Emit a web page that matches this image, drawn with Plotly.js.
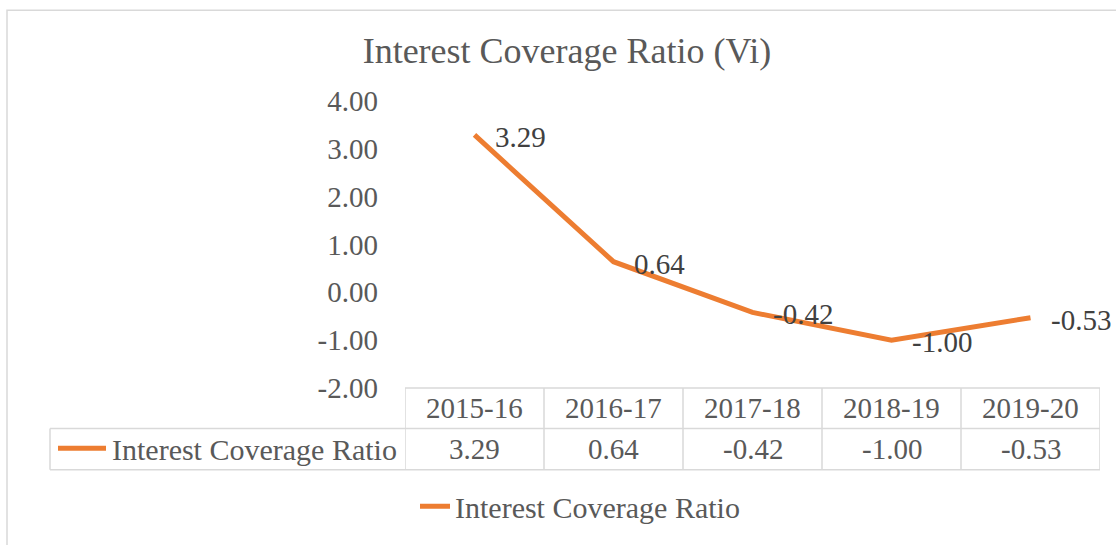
<!DOCTYPE html>
<html>
<head>
<meta charset="utf-8">
<script src="https://cdn.plot.ly/plotly-3.0.1.min.js"></script>
<style>html,body{margin:0;padding:0;background:#fff;}#chart{width:1116px;height:545px;}</style>
</head>
<body>
<div id="chart"></div>
<script>
const categories = ["2015-16", "2016-17", "2017-18", "2018-19", "2019-20"];
const values = [3.29, 0.64, -0.42, -1.00, -0.53];
const seriesName = "Interest Coverage Ratio";
const chartTitle = "Interest Coverage Ratio (Vi)";
const yTickVals = [4, 3, 2, 1, 0, -1, -2];
const yTickText = ["4.00", "3.00", "2.00", "1.00", "0.00", "-1.00", "-2.00"];

const W = 1116, H = 545;
const L = 405, R = 16, T = 101, B = 153;
const plotW = W - L - R, plotH = H - T - B;
const px2x = p => (p - L) / plotW;
const py2y = p => (H - B - p) / plotH;

const ORANGE = "#ED7D31";
const GRID = "#D9D9D9";
const FONT = "Liberation Serif, Times New Roman, serif";

const hdrY = py2y(412), rowY = py2y(454);
const tTop = 0, tMid = py2y(433), tBot = py2y(475);

const shapes = [];
// outer chart border
shapes.push({type: "rect", xref: "paper", yref: "paper", x0: px2x(7), x1: px2x(1200), y0: py2y(9), y1: py2y(600), line: {color: GRID, width: 1.5}, fillcolor: "rgba(0,0,0,0)", layer: "below"});
// table vertical lines
for (let i = 0; i <= categories.length; i++) {
  shapes.push({type: "line", xref: "x", yref: "paper", x0: i - 0.5, x1: i - 0.5, y0: tTop, y1: tBot, line: {color: GRID, width: 1.5}});
}
// table horizontal lines
shapes.push({type: "line", xref: "x", yref: "paper", x0: -0.5, x1: categories.length - 0.5, y0: tTop, y1: tTop, line: {color: GRID, width: 1.5}});
shapes.push({type: "line", xref: "paper", yref: "paper", x0: px2x(50), x1: 1, y0: tMid, y1: tMid, line: {color: GRID, width: 1.5}});
shapes.push({type: "line", xref: "paper", yref: "paper", x0: px2x(50), x1: 1, y0: tBot, y1: tBot, line: {color: GRID, width: 1.5}});
shapes.push({type: "line", xref: "paper", yref: "paper", x0: px2x(50), x1: px2x(50), y0: tMid, y1: tBot, line: {color: GRID, width: 1.5}});
// legend key in table row
shapes.push({type: "line", xref: "paper", yref: "paper", x0: px2x(58), x1: px2x(106), y0: py2y(453), y1: py2y(453), line: {color: ORANGE, width: 5}});

const annotations = [];
categories.forEach((c, i) => {
  annotations.push({x: c, y: hdrY, xref: "x", yref: "paper", text: c, showarrow: false, xanchor: "center", yanchor: "middle", font: {family: FONT, size: 29, color: "#595959"}});
  annotations.push({x: c, y: rowY, xref: "x", yref: "paper", text: values[i].toFixed(2), showarrow: false, xanchor: "center", yanchor: "middle", font: {family: FONT, size: 29, color: "#595959"}});
  annotations.push({x: c, y: values[i], xref: "x", yref: "y", text: values[i].toFixed(2), showarrow: false, xanchor: "left", yanchor: "middle", xshift: 18, yshift: -2, font: {family: FONT, size: 29, color: "#404040"}});
});
annotations.push({x: px2x(110), y: rowY, xref: "paper", yref: "paper", text: seriesName, showarrow: false, xanchor: "left", yanchor: "middle", font: {family: FONT, size: 30, color: "#595959"}});

const trace = {
  x: categories, y: values, type: "scatter", mode: "lines", name: seriesName,
  line: {color: ORANGE, width: 5}, hoverinfo: "skip", cliponaxis: false
};

const layout = {
  width: W, height: H, autosize: false,
  margin: {l: L, r: R, t: T, b: B, pad: 0},
  paper_bgcolor: "#ffffff", plot_bgcolor: "#ffffff",
  font: {family: FONT, size: 29, color: "#595959"},
  title: {text: chartTitle, font: {family: FONT, size: 36, color: "#595959"}, xref: "paper", x: px2x(567), xanchor: "center", yref: "container", y: 1 - 50 / H, yanchor: "middle"},
  xaxis: {type: "category", range: [-0.5, categories.length - 0.5], showticklabels: false, showgrid: false, zeroline: false, showline: false, ticks: ""},
  yaxis: {range: [-2, 4], tickvals: yTickVals, ticktext: yTickText, showgrid: false, zeroline: false, showline: false, ticks: "", ticklabelstandoff: 26, tickfont: {family: FONT, size: 29, color: "#595959"}},
  showlegend: true,
  legend: {orientation: "h", x: px2x(415), xanchor: "left", y: py2y(512), yanchor: "middle", font: {family: FONT, size: 30, color: "#595959"}, bgcolor: "rgba(0,0,0,0)"},
  shapes: shapes, annotations: annotations
};

Plotly.newPlot("chart", [trace], layout, {displayModeBar: false, staticPlot: true});
</script>
</body>
</html>
